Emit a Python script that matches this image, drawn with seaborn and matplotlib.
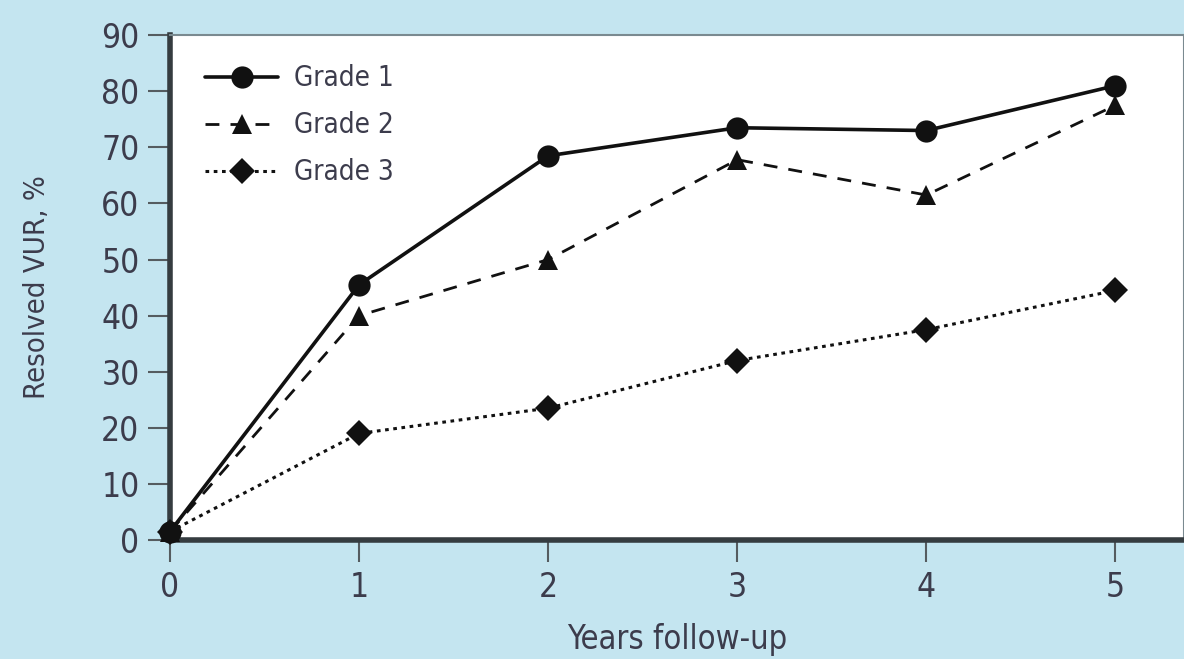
import numpy as np
import pandas as pd
import seaborn as sns
import matplotlib.pyplot as plt

years = [0, 1, 2, 3, 4, 5]
grade1 = [1.5, 45.5, 68.5, 73.5, 73.0, 81.0]
grade2 = [1.5, 40.0, 50.0, 67.8, 61.5, 77.5]
grade3 = [1.5, 19.0, 23.5, 32.0, 37.5, 44.5]
grades = ['Grade 1', 'Grade 2', 'Grade 3']

df = pd.DataFrame({
    'year': years * 3,
    'resolved': grade1 + grade2 + grade3,
    'grade': [g for g in grades for _ in years],
})

sns.set_style('white')
plt.rcParams['font.family'] = ['DejaVu Sans']
plt.rcParams['font.stretch'] = 'condensed'

bg = '#c4e5f0'
txt = '#3c3c4c'

fig = plt.figure(figsize=(11.84, 6.59), dpi=100, facecolor=bg)
ax = fig.add_axes([0.1436, 0.1806, 0.856, 0.766])
ax.set_facecolor('white')

styles = {
    'Grade 1': dict(linestyle='-', marker='o', markersize=16, linewidth=2.6),
    'Grade 2': dict(linestyle=(0, (5, 4)), marker='^', markersize=15, linewidth=2.0),
    'Grade 3': dict(linestyle=(0, (1.2, 1.5)), marker='D', markersize=13, linewidth=2.2),
}
for g in grades:
    sub = df[df['grade'] == g]
    sns.lineplot(data=sub, x='year', y='resolved', ax=ax, color='#111111',
                 label=g, clip_on=False, markeredgewidth=0, zorder=5, **styles[g])

ax.set_xlim(0, 5.36)
ax.set_ylim(0, 90)
ax.set_xticks(range(6))
ax.set_yticks(range(0, 91, 10))
ax.tick_params(axis='both', direction='out', length=16, width=1.5, color='#555c60',
               labelsize=24, labelcolor=txt, pad=6)
ax.tick_params(axis='x', bottom=True)
ax.tick_params(axis='y', left=True)

for s in ['left', 'bottom']:
    ax.spines[s].set_linewidth(4)
    ax.spines[s].set_color('#353c40')
ax.spines['top'].set_linewidth(1.5)
ax.spines['top'].set_color('#7a8a90')
ax.spines['right'].set_linewidth(1.5)
ax.spines['right'].set_color('#7a8a90')

ax.set_xlabel('Years follow-up', fontsize=23.5, color=txt, labelpad=14)
ax.set_ylabel('Resolved VUR, %', fontsize=21, color=txt, labelpad=36)

leg = ax.legend(loc='upper left', bbox_to_anchor=(0.024, 0.964), borderaxespad=0,
                frameon=False, fontsize=20, handlelength=2.6,
                handletextpad=0.6, labelspacing=0.68, labelcolor=txt)

fig.savefig('out.png', dpi=100, facecolor=bg)
